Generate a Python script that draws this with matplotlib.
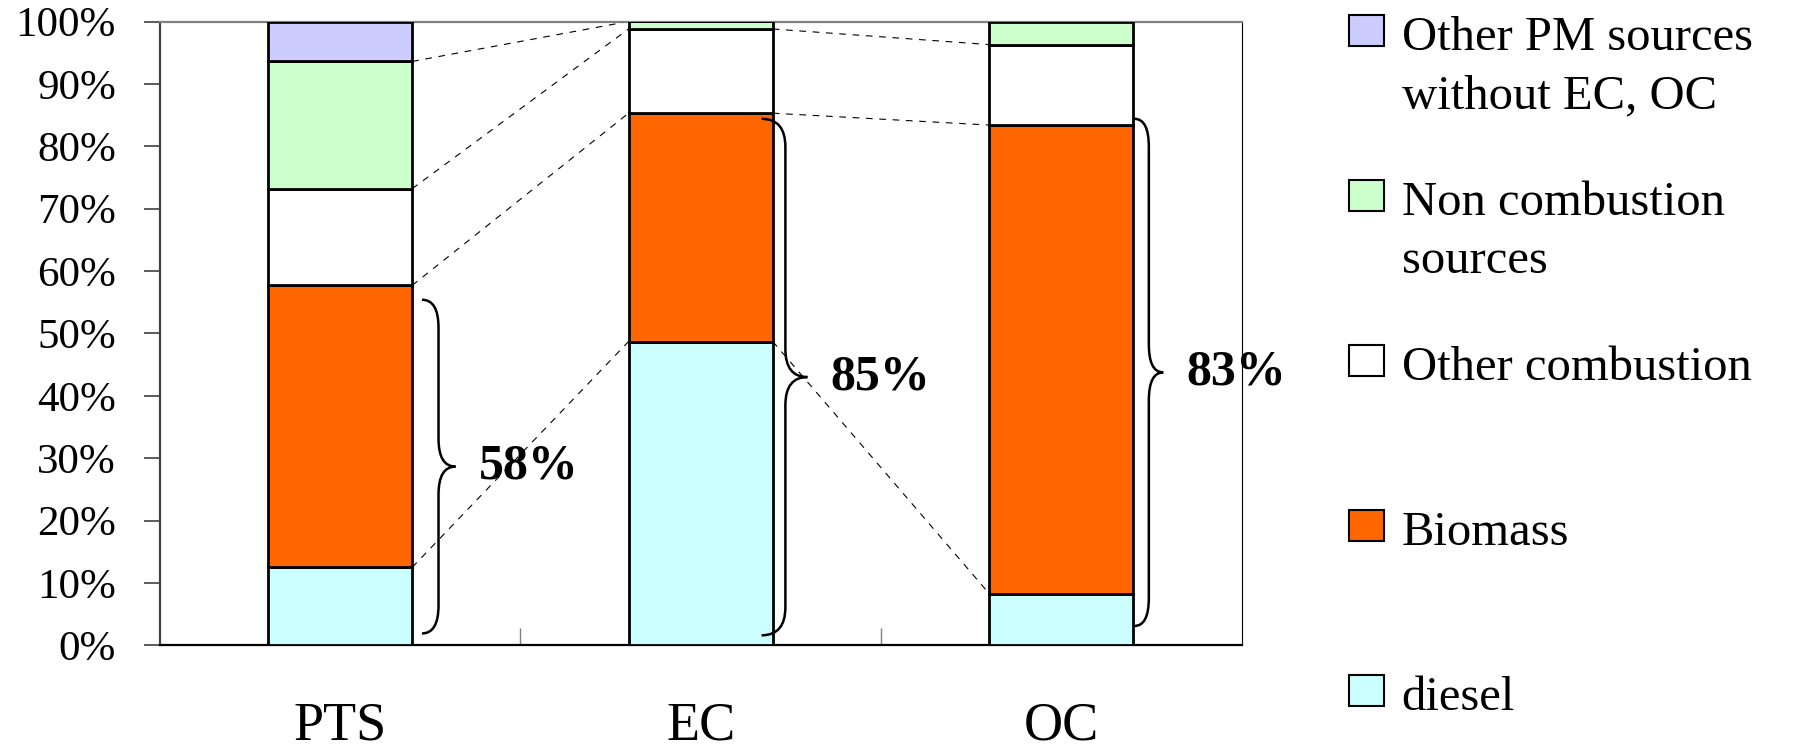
import matplotlib
matplotlib.use("Agg")
import matplotlib.pyplot as plt
from matplotlib.patches import Rectangle, PathPatch
from matplotlib.path import Path
import numpy as np

# ---- data (percent shares) ----
categories = ["PTS", "EC", "OC"]
diesel = [12.5, 48.7, 8.3]
biomass = [45.2, 36.6, 75.1]
other_combustion = [15.5, 13.5, 12.9]
non_combustion = [20.4, 1.2, 3.7]
other_pm = [6.4, 0.0, 0.0]

series_labels = ["diesel", "Biomass", "Other combustion",
                 "Non combustion\nsources", "Other PM sources\nwithout EC, OC"]
series_colors = ["#CCFFFF", "#FF6600", "#FFFFFF", "#CCFFCC", "#CCCCFF"]
yticks = list(range(0, 101, 10))

# brace annotation geometry (relative to the right edge of each bar)
brace_start = [0.027, -0.031, 0.003]
brace_mid = [0.073, 0.035, 0.043]
brace_tip = [0.12, 0.096, 0.083]
brace_lo = [1.9, 1.6, 3.1]
brace_hi = [55.4, 84.4, 84.4]

plt.rcParams["font.family"] = ["Liberation Serif", "DejaVu Serif"]

W, H = 1809, 751
fig = plt.figure(figsize=(W / 100, H / 100), dpi=100)
ax = fig.add_axes([159.8 / W, (H - 645.3) / H, (1241.5 - 159.8) / W, (645.3 - 21.5) / H])

series = [diesel, biomass, other_combustion, non_combustion, other_pm]
x = np.arange(len(categories))
bw = 0.4
bottom = np.zeros(len(categories))
cum = [bottom.copy()]
for vals, col, lab in zip(series, series_colors, series_labels):
    v = np.array(vals, dtype=float)
    ax.bar(x, v, bw, bottom=bottom, color=col, edgecolor="black",
           linewidth=2.0, zorder=3, label=lab)
    bottom = bottom + v
    cum.append(bottom.copy())

# dashed connector lines between bars
for i in range(len(categories) - 1):
    for c in cum[1:]:
        ax.plot([x[i] + bw / 2, x[i + 1] - bw / 2], [c[i], c[i + 1]],
                color="black", lw=0.8, ls=(0, (6, 6)), zorder=2)

# braces + labels
for i in range(len(categories)):
    edge = x[i] + bw / 2
    x0, xm, xt = edge + brace_start[i], edge + brace_mid[i], edge + brace_tip[i]
    lo, hi = brace_lo[i], brace_hi[i]
    mid = (lo + hi) / 2
    r = 4.5
    verts = [(x0, hi), (xm, hi), (xm, hi - r),
             (xm, mid + r),
             (xm, mid), (xt, mid),
             (xm, mid), (xm, mid - r),
             (xm, lo + r),
             (xm, lo), (x0, lo)]
    codes = [Path.MOVETO, Path.CURVE3, Path.CURVE3, Path.LINETO,
             Path.CURVE3, Path.CURVE3, Path.CURVE3, Path.CURVE3,
             Path.LINETO, Path.CURVE3, Path.CURVE3]
    ax.add_patch(PathPatch(Path(verts, codes), fill=False, lw=1.8,
                           edgecolor="black", zorder=5, clip_on=False))
    total = diesel[i] + biomass[i]
    ax.text(xt + 0.065, mid, f"{round(total)}%", fontsize=36,
            fontweight="bold", ha="left", va="center", zorder=6)

ax.set_xlim(-0.5, 2.5)
ax.set_ylim(0, 100)
ax.set_yticks(yticks)
ax.set_yticklabels([f"{t}%" for t in yticks])
ax.tick_params(axis="y", direction="out", length=11.5, width=1.2,
               color="#404040", labelsize=31, pad=20)
ax.set_xticks(x)
ax.set_xticklabels(categories)
ax.tick_params(axis="x", which="major", length=0, labelsize=39, pad=40)
ax.set_xticks([0.5, 1.5], minor=True)
ax.tick_params(axis="x", which="minor", direction="in", length=12,
               width=1, color="#808080")

ax.spines["left"].set_color("#404040")
ax.spines["left"].set_linewidth(1.6)
ax.spines["top"].set_color("#808080")
ax.spines["top"].set_linewidth(1.6)
ax.spines["right"].set_color("black")
ax.spines["right"].set_linewidth(0.8)
ax.spines["bottom"].set_color("black")
ax.spines["bottom"].set_linewidth(1.6)

# legend drawn manually (reverse stacking order)
first_baseline = 50
step = 165
line_pitch = 58
for k, idx in enumerate(reversed(range(len(series_labels)))):
    base = first_baseline + k * step
    cy = base - 20
    fig.patches.append(Rectangle((1349 / W, 1 - (cy + 15.5) / H), 35 / W, 31 / H,
                                 transform=fig.transFigure, facecolor=series_colors[idx],
                                 edgecolor="black", linewidth=1.5))
    for j, line in enumerate(series_labels[idx].split("\n")):
        fig.text(1401.7 / W, 1 - (base + j * line_pitch) / H, line,
                 fontsize=35, ha="left", va="baseline")

fig.savefig("out.png", dpi=100)
